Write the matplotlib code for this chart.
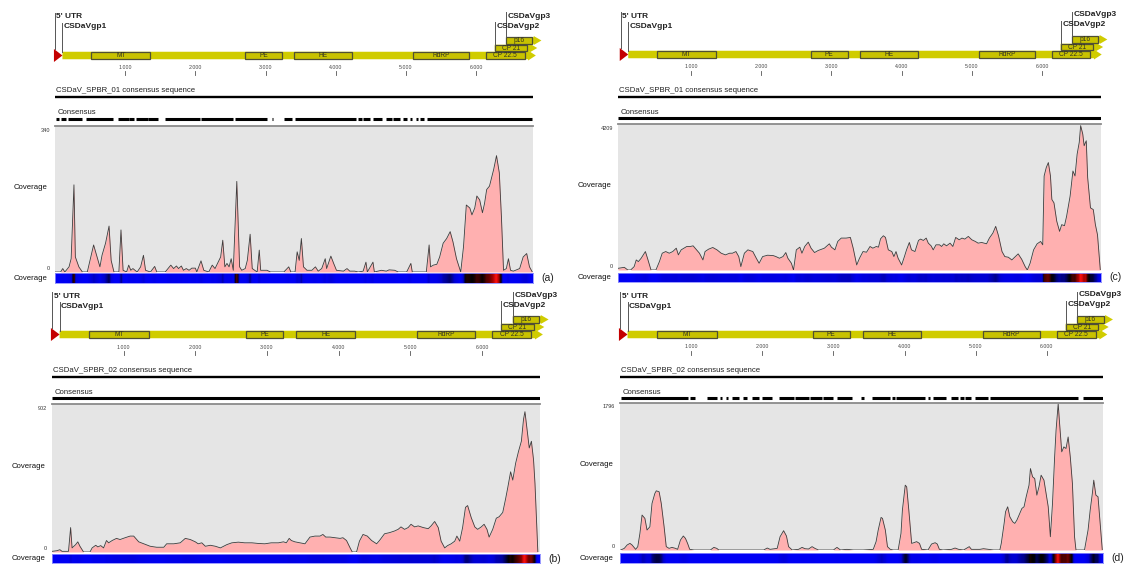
import numpy as np
import matplotlib
matplotlib.use('Agg')
import matplotlib.pyplot as plt
from matplotlib.colors import LinearSegmentedColormap
from matplotlib.patches import Rectangle, Polygon

plt.rcParams['font.family'] = ['Liberation Sans', 'DejaVu Sans']

W, H = 1132, 564

# CSDaV genome annotation (nt)
utr5_end = 106
orf1_end = 6850
orf2 = (6265, 6870)
orf3 = (6430, 6930)
domains = ['MT', 'PE', 'HE', 'RdRP', 'CP 22.5']
domain_start = [520, 2710, 3410, 5100, 6140]
domain_end = [1360, 3230, 4230, 5900, 6690]
cp21 = (6265, 6720)
p16 = (6430, 6800)
scale_ticks = [1000, 2000, 3000, 4000, 5000, 6000]
scale_labels = ['1.000', '2.000', '3.000', '4.000', '5.000', '6.000']

samples = ['CSDaV_SPBR_01', 'CSDaV_SPBR_02']

# (a) SPBR_01, first library
pos_a = [0, 80, 110, 140, 200, 230, 270, 290, 340, 390, 460, 510, 550, 600, 640, 670, 720, 770,
         800, 840, 910, 940, 970, 1020, 1050, 1080, 1110, 1170, 1220, 1260, 1290, 1360, 1420,
         1450, 1570, 1650, 1690, 1730, 1760, 1800, 1830, 1870, 1910, 1950, 2000, 2020, 2080,
         2120, 2190, 2240, 2280, 2360, 2390, 2420, 2450, 2480, 2510, 2540, 2590, 2630, 2660,
         2710, 2740, 2780, 2810, 2880, 2910, 2930, 3020, 3070, 3260, 3330, 3360, 3420, 3450,
         3480, 3510, 3540, 3590, 3660, 3710, 3750, 3800, 3850, 3870, 3930, 3970, 4010, 4110,
         4160, 4200, 4270, 4320, 4390, 4430, 4450, 4530, 4550, 4650, 4720, 4760, 4840, 4890,
         5010, 5070, 5090, 5290, 5330, 5350, 5390, 5440, 5480, 5530, 5580, 5630, 5670, 5720,
         5780, 5820, 5860, 5910, 5940, 5980, 6010, 6050, 6090, 6120, 6150, 6190, 6220, 6250,
         6290, 6330, 6360, 6390, 6430, 6460, 6490, 6530, 6620, 6670, 6720, 6760, 6800]
cov_a = [0, 0, 8, 0, 12, 31, 203, 35, 12, 0, 0, 35, 63, 35, 12, 39, 67, 107,
         27, 0, 0, 98, 4, 0, 16, 4, 8, 0, 12, 39, 4, 0, 13,
         0, 0, 16, 8, 14, 8, 14, 4, 8, 4, 9, 9, 0, 26,
         4, 0, 16, 8, 35, 74, 12, 20, 12, 31, 4, 211, 12, 4,
         8, 27, 88, 8, 0, 51, 4, 4, 0, 0, 12, 0, 0, 47,
         27, 78, 12, 4, 4, 12, 2, 8, 31, 8, 37, 20, 4, 2,
         8, 2, 2, 0, 2, 23, 0, 23, 0, 4, 2, 5, 4, 0,
         0, 20, 0, 0, 63, 12, 16, 18, 35, 67, 78, 94, 70, 31,
         0, 59, 156, 149, 133, 149, 177, 168, 138, 160, 192, 200, 219, 239,
         271, 231, 129, 4, 8, 31, 4, 2, 8, 35, 43, 12, 0]

# (b) SPBR_02, first library
pos_b = [0, 70, 110, 140, 230, 260, 280, 330, 360, 390, 440, 530, 560, 610, 640, 680, 720, 760,
         790, 840, 900, 950, 1020, 1090, 1140, 1210, 1280, 1370, 1460, 1560, 1600, 1700, 1790,
         1860, 1930, 2000, 2040, 2090, 2140, 2210, 2280, 2350, 2440, 2510, 2600, 2690, 2790,
         2880, 2970, 3060, 3160, 3230, 3270, 3310, 3340, 3390, 3460, 3530, 3600, 3670, 3740,
         3780, 3820, 3880, 3950, 4020, 4060, 4110, 4160, 4190, 4250, 4290, 4340, 4400, 4460,
         4530, 4570, 4640, 4710, 4780, 4830, 4870, 4920, 4970, 5010, 5060, 5110, 5180, 5250,
         5290, 5340, 5390, 5430, 5480, 5520, 5570, 5620, 5650, 5690, 5730, 5770, 5800, 5850,
         5900, 5940, 5990, 6030, 6070, 6100, 6150, 6200, 6240, 6290, 6330, 6360, 6400, 6430,
         6470, 6510, 6550, 6580, 6600, 6630, 6660, 6690, 6720, 6740, 6780]
cov_b = [4, 8, 14, 4, 4, 149, 25, 45, 62, 35, 0, 0, 25, 41, 31, 39, 25, 70,
         56, 70, 83, 76, 87, 97, 97, 62, 50, 35, 29, 29, 50, 50, 56,
         83, 76, 62, 50, 56, 35, 41, 35, 25, 45, 56, 60, 56, 56,
         52, 50, 56, 56, 62, 56, 83, 70, 62, 56, 50, 91, 97, 97,
         107, 91, 91, 87, 83, 87, 70, 25, 0, 0, 66, 107, 97, 70,
         50, 70, 111, 118, 128, 138, 153, 138, 149, 169, 153, 159, 149, 142,
         159, 186, 149, 66, 25, 39, 50, 66, 97, 66, 149, 272, 283, 210,
         153, 138, 153, 169, 138, 91, 138, 206, 215, 241, 324, 392, 489, 438,
         541, 613, 675, 809, 855, 747, 634, 675, 561, 417, 0]

# (c) SPBR_01, second library
pos_c = [-40, 50, 100, 140, 190, 220, 250, 290, 320, 350, 380, 430, 500, 550, 590, 640, 690, 740,
         790, 820, 860, 900, 940, 990, 1030, 1080, 1120, 1170, 1200, 1250, 1310, 1370, 1430,
         1490, 1550, 1590, 1640, 1680, 1710, 1760, 1810, 1880, 1930, 1970, 2020, 2090, 2170,
         2210, 2260, 2310, 2350, 2380, 2430, 2460, 2500, 2550, 2580, 2620, 2670, 2710, 2760,
         2810, 2860, 2900, 2970, 3000, 3050, 3090, 3140, 3210, 3270, 3310, 3360, 3400, 3450,
         3500, 3550, 3590, 3640, 3670, 3700, 3740, 3770, 3810, 3860, 3890, 3920, 3950, 4000,
         4040, 4070, 4110, 4140, 4190, 4240, 4270, 4310, 4350, 4380, 4420, 4450, 4490, 4540,
         4570, 4600, 4640, 4690, 4730, 4770, 4820, 4860, 4900, 4950, 5000, 5050, 5090, 5140,
         5210, 5250, 5300, 5340, 5380, 5430, 5470, 5520, 5570, 5620, 5660, 5710, 5760, 5790,
         5830, 5880, 5930, 5980, 6010, 6030, 6060, 6090, 6120, 6140, 6170, 6210, 6250, 6280,
         6320, 6350, 6400, 6440, 6470, 6500, 6530, 6550, 6580, 6600, 6630, 6650, 6690, 6730,
         6760, 6790, 6830]
cov_c = [48, 77, 0, 0, 97, 290, 242, 339, 436, 532, 339, 0, 0, 242, 484, 532, 484, 532,
         629, 436, 581, 629, 678, 678, 697, 581, 484, 290, 532, 600, 649, 581, 484,
         436, 484, 484, 532, 387, 97, 484, 581, 532, 339, 194, 387, 426, 416,
         387, 339, 387, 503, 339, 194, 0, 581, 658, 484, 678, 803, 629, 503,
         561, 600, 629, 755, 658, 581, 823, 920, 920, 939, 629, 145, 339, 532,
         513, 678, 629, 678, 658, 900, 987, 939, 581, 532, 387, 532, 339, 145,
         387, 581, 794, 581, 532, 852, 891, 852, 920, 774, 697, 581, 726, 726,
         678, 755, 697, 774, 678, 939, 871, 920, 891, 968, 871, 823, 774, 794,
         755, 920, 1065, 1258, 987, 532, 387, 368, 290, 387, 465, 310, 97, 0,
         194, 581, 755, 823, 726, 2710, 2952, 3098, 2710, 2033, 1936, 1404, 1113, 1307,
         1278, 1549, 2130, 2855, 2710, 3340, 3678, 4162, 3920, 3582, 3727, 2662, 1791, 1742,
         1307, 1016, 0]

# (d) SPBR_02, second library
pos_d = [10, 60, 100, 140, 170, 220, 250, 280, 310, 350, 380, 420, 450, 490, 510, 550, 580, 620,
         650, 690, 730, 780, 810, 850, 890, 920, 950, 980, 1040, 1270, 1320, 1360, 1390,
         2020, 2070, 2110, 2210, 2250, 2300, 2340, 2370, 2420, 2510, 2560, 2600, 2650, 2700,
         2740, 2790, 3000, 3050, 3100, 3190, 3280, 3420, 3560, 3600, 3630, 3670, 3690, 3730,
         3760, 3800, 3840, 3910, 3950, 3970, 4010, 4030, 4060, 4100, 4130, 4170, 4210, 4240,
         4330, 4380, 4430, 4460, 4490, 4540, 4660, 4710, 4760, 4830, 4870, 4910, 4940, 5060,
         5110, 5180, 5250, 5340, 5360, 5400, 5420, 5450, 5480, 5520, 5550, 5580, 5620, 5650,
         5680, 5710, 5750, 5770, 5800, 5830, 5860, 5890, 5920, 5960, 5990, 6020, 6050, 6080,
         6110, 6130, 6160, 6180, 6210, 6240, 6270, 6300, 6330, 6360, 6390, 6410, 6530, 6580,
         6610, 6640, 6660, 6690, 6720, 6750, 6780]
cov_d = [0, 20, 61, 81, 61, 8, 41, 203, 427, 386, 244, 284, 569, 691, 723, 711, 569, 284,
         41, 20, 32, 20, 8, 122, 171, 142, 81, 8, 0, 0, 32, 20, 0,
         0, 24, 8, 20, 162, 236, 171, 41, 0, 8, 32, 16, 12, 41,
         20, 0, 0, 32, 0, 8, 0, 0, 8, 102, 244, 398, 386, 244,
         41, 8, 0, 0, 203, 488, 792, 772, 488, 81, 89, 102, 81, 8,
         0, 73, 89, 73, 8, 0, 8, 24, 8, 0, 20, 41, 8, 8,
         16, 8, 0, 0, 81, 325, 467, 528, 406, 345, 325, 366, 447, 508,
         528, 650, 792, 995, 894, 873, 670, 772, 914, 853, 691, 528, 162, 569,
         1138, 1463, 1788, 1544, 1199, 1260, 1240, 1381, 1138, 812, 162, 0, 0, 244,
         488, 690, 853, 670, 650, 325, 0]

# Consensus track: covered stretches (start/end)
cons_a_start = [10, 80, 180, 440, 900, 1060, 1150, 1330, 1570, 2080, 2570, 3090, 3260, 3420,
                4320, 4390, 4530, 4720, 4820, 4960, 5060, 5140, 5200, 5300]
cons_a_end = [50, 150, 390, 830, 1050, 1120, 1320, 1470, 2070, 2540, 3020, 3110, 3380, 4290,
              4370, 4490, 4660, 4800, 4920, 5010, 5090, 5170, 5260, 6800]
cons_d_start = [20, 990, 1220, 1410, 1490, 1580, 1730, 1860, 2000, 2230, 2460, 2670, 2860,
                3050, 3390, 3540, 3820, 3880, 4330, 4400, 4660, 4780, 4850, 4990, 5200, 6510]
cons_d_end = [950, 1060, 1370, 1440, 1520, 1670, 1790, 1950, 2140, 2440, 2650, 2840, 3000,
              3260, 3430, 3800, 3870, 4290, 4360, 4580, 4750, 4830, 4940, 5180, 6440, 6790]

cov_max = [340, 902, 4209, 1796]

heat_cmap = LinearSegmentedColormap.from_list(
    'cov', [(0, '#0000f5'), (0.2, '#0000d0'), (0.35, '#000068'), (0.5, '#000000'),
            (0.7, '#500000'), (0.85, '#a00000'), (1, '#ff1010')])

YELLOW = '#d0cc00'
BOX_FILL = '#c8c200'
BOX_EDGE = '#4f4f35'


def fig_axes(fig, x0, y0, x1, y1):
    return fig.add_axes([x0 / W, 1 - y1 / H, (x1 - x0) / W, (y1 - y0) / H])


def arrow(ax, start, end, yc, h, head, head_h):
    pts = [(start, yc - h / 2), (end - head, yc - h / 2), (end - head, yc - head_h / 2),
           (end, yc), (end - head, yc + head_h / 2), (end - head, yc + h / 2), (start, yc + h / 2)]
    ax.add_patch(Polygon(pts, closed=True, fc=YELLOW, ec='none', clip_on=False))


def box(ax, s, e, yc, h, label):
    ax.add_patch(Rectangle((s, yc - h / 2), e - s, h, fc=BOX_FILL, ec=BOX_EDGE, lw=0.9,
                           clip_on=False))
    ax.text((s + e) / 2, yc + 0.3, label, ha='center', va='center', fontsize=4.8,
            color='#333322', clip_on=False)


def tag(ax, x, y0, y1, ty, label):
    ax.plot([x, x], [y0, y1], color='#555555', lw=0.7, clip_on=False)
    ax.annotate(label, xy=(x, ty), xytext=(1.5, 0), textcoords='offset pixels',
                ha='left', va='center', fontsize=6, fontweight='bold', color='#222222',
                annotation_clip=False)


def draw_header(ax, xlim, sample, cons_start, cons_end):
    ax.set_xlim(*xlim)
    ax.set_ylim(ax.get_ylim()[1], 0)
    ax.axis('off')
    # genome map
    yb = 55.5
    arrow(ax, utr5_end, orf1_end, yb, 7.5, 110, 10)
    arrow(ax, orf2[0], orf2[1], yb - 7.5, 6.5, 110, 9)
    arrow(ax, orf3[0], orf3[1], yb - 15, 6.5, 110, 9)
    ax.add_patch(Polygon([(-15, yb - 6.5), (-15, yb + 6.5), (utr5_end, yb)], closed=True,
                         fc='#c40000', ec='none', clip_on=False))
    for s, e, lab in zip(domain_start, domain_end, domains):
        box(ax, s, e, yb, 7, lab)
    box(ax, cp21[0], cp21[1], yb - 7.5, 6.5, 'CP 21')
    box(ax, p16[0], p16[1], yb - 15, 6.5, 'p16')
    tag(ax, 0, 13, yb - 6.5, 17, "5' UTR")
    tag(ax, utr5_end, 23, yb - 3.7, 27, 'CSDaVgp1')
    tag(ax, orf2[0], 22, yb - 10.8, 26, 'CSDaVgp2')
    tag(ax, orf3[0], 12.5, yb - 18.3, 16, 'CSDaVgp3')
    for t, lab in zip(scale_ticks, scale_labels):
        ax.text(t, 68, lab, ha='center', va='center', fontsize=3.8, color='#444444')
        ax.plot([t, t], [71.5, 75.5], color='#555555', lw=0.6)
    # sequence and consensus tracks
    ax.text(0.003, 91, sample + ' consensus sequence', transform=ax.get_yaxis_transform(),
            ha='left', va='center', fontsize=5.6, color='#222222')
    ax.plot([0, 1], [97.5, 97.5], transform=ax.get_yaxis_transform(), color='black', lw=1.7,
            solid_capstyle='butt')
    ax.text(0.005, 113, 'Consensus', transform=ax.get_yaxis_transform(),
            ha='left', va='center', fontsize=5.6, color='#222222')
    if cons_start is None:
        ax.plot([0, 1], [119.2, 119.2], transform=ax.get_yaxis_transform(), color='black',
                lw=2.2, solid_capstyle='butt')
    else:
        ax.hlines(np.full(len(cons_start), 119.2), cons_start, cons_end, color='black', lw=2.2)


def draw_coverage(ax, hax, xlim, pos, cov, ymax, letter):
    ax.set_facecolor('#e5e5e5')
    ax.fill_between(pos, cov, 0, color='#ffb0b0', lw=0)
    ax.plot(pos, cov, color='#3c3c3c', lw=0.6)
    ax.set_xlim(*xlim)
    ax.set_ylim(0, ymax)
    ax.set_xticks([])
    ax.set_yticks([])
    for side in ['left', 'right', 'bottom']:
        ax.spines[side].set_visible(False)
    ax.spines['top'].set_color('#8a8a8a')
    ax.spines['top'].set_linewidth(1.3)
    ax.annotate(str(ymax), xy=(0, 1), xycoords='axes fraction', xytext=(-5, -4),
                textcoords='offset pixels', ha='right', va='center', fontsize=4,
                color='#333333')
    ax.annotate('0', xy=(0, 0), xycoords='axes fraction', xytext=(-5, 4),
                textcoords='offset pixels', ha='right', va='center', fontsize=4,
                color='#333333')
    ax.annotate('Coverage', xy=(0, 0.58), xycoords='axes fraction', xytext=(-7, 0),
                textcoords='offset pixels', ha='right', va='center', fontsize=5.6,
                color='#111111')

    # coverage heat strip
    grid = np.linspace(xlim[0], xlim[1], 800)
    level = np.interp(grid, pos, cov) / max(cov)
    hax.imshow(level[None, :], aspect='auto', cmap=heat_cmap, vmin=0, vmax=1,
               extent=(xlim[0], xlim[1], 0, 1), interpolation='bilinear')
    hax.set_xticks([])
    hax.set_yticks([])
    for sp in hax.spines.values():
        sp.set_color('#8c8cff')
        sp.set_linewidth(0.6)
    hax.annotate('Coverage', xy=(0, 0.5), xycoords='axes fraction', xytext=(-7, 0),
                 textcoords='offset pixels', ha='right', va='center', fontsize=5.6,
                 color='#111111')
    hax.annotate('(%s)' % letter, xy=(1, 0.5), xycoords='axes fraction', xytext=(8, 0),
                 textcoords='offset pixels', ha='left', va='center', fontsize=7.5,
                 color='#222222')


fig = plt.figure(figsize=(W / 100, H / 100), dpi=100)

panels = [
    # x0, x1, top, plot top, plot bottom, heat top, heat bottom
    dict(box=(55, 533, 0, 126, 272, 273, 283), xlim=(0, 6810), sample=samples[0],
         pos=pos_a, cov=cov_a, ymax=cov_max[0], cons=(cons_a_start, cons_a_end), letter='a'),
    dict(box=(52, 540, 279, 404, 552, 554, 563), xlim=(0, 6810), sample=samples[1],
         pos=pos_b, cov=cov_b, ymax=cov_max[1], cons=(None, None), letter='b'),
    dict(box=(618, 1101, -1, 124, 270, 272.5, 282), xlim=(-40, 6840), sample=samples[0],
         pos=pos_c, cov=cov_c, ymax=cov_max[2], cons=(None, None), letter='c'),
    dict(box=(620, 1103, 279, 403, 550, 553, 563), xlim=(0, 6790), sample=samples[1],
         pos=pos_d, cov=cov_d, ymax=cov_max[3], cons=(cons_d_start, cons_d_end), letter='d'),
]

for p in panels:
    x0, x1, top, ptop, pbot, htop, hbot = p['box']
    head_ax = fig_axes(fig, x0, top, x1, ptop)
    head_ax.set_ylim(0, ptop - top)
    draw_header(head_ax, p['xlim'], p['sample'], *p['cons'])
    cov_ax = fig_axes(fig, x0, ptop, x1, pbot)
    heat_ax = fig_axes(fig, x0, htop, x1, hbot)
    draw_coverage(cov_ax, heat_ax, p['xlim'], p['pos'], p['cov'], p['ymax'], p['letter'])

fig.savefig('out.png', dpi=100, facecolor='white')
